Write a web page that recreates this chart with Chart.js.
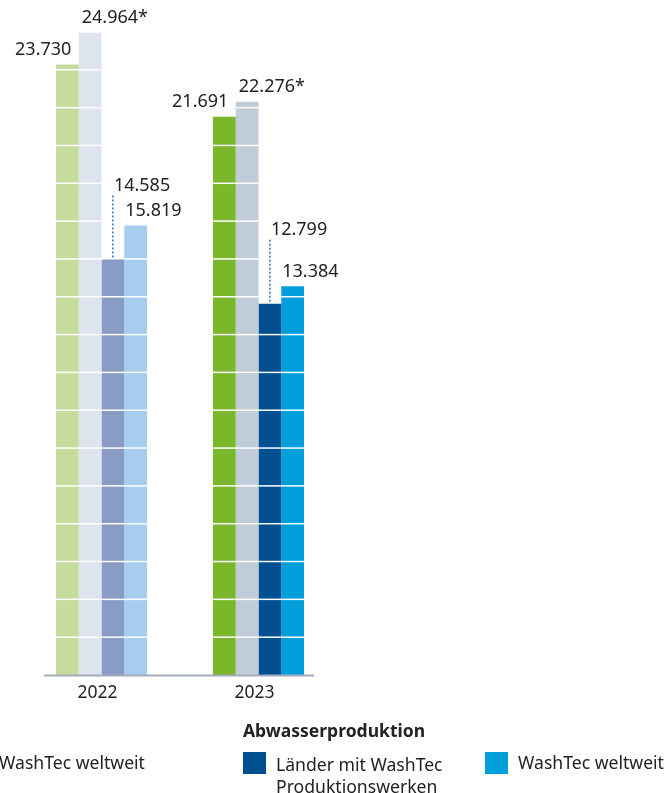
<!DOCTYPE html>
<html>
<head>
<meta charset="utf-8">
<script src="https://cdn.jsdelivr.net/npm/chart.js@4"></script>
<style>
  body { margin: 0; background: #fff; }
  #wrap { position: relative; width: 671px; height: 793px; overflow: hidden; font-family: "Noto Sans", sans-serif; color: #222; }
  canvas { position: absolute; left: 0; top: 0; }
  .legend-title { position: absolute; left: 243px; top: 718px; font-weight: bold; font-size: 17.5px; }
  .item { position: absolute; font-size: 17.6px; line-height: 22px; }
  .swatch { position: absolute; width: 23px; height: 22px; }
</style>
</head>
<body>
<div id="wrap">
  <canvas id="chart" width="671" height="793"></canvas>
  <div class="item" style="left:-1px; top:751px;">WashTec weltweit</div>
  <div class="legend-title">Abwasserproduktion</div>
  <div class="swatch" style="left:243px; top:752px; background:#005091;"></div>
  <div class="item" style="left:276px; top:753px;">Länder mit WashTec<br>Produktionswerken</div>
  <div class="swatch" style="left:485px; top:752px; background:#009edb;"></div>
  <div class="item" style="left:518px; top:751px;">WashTec weltweit</div>
</div>
<script>
const years = ["2022", "2023"];

// bar heights as drawn in the original graphic
// (the lower two bars are drawn taller than their printed values)
const greenBars = [23730, 21691];
const greyBars = [24964, 22276];
const darkBlueBars = [16150, 14430];
const lightBlueBars = [17470, 15110];

// printed value labels
const greenLabels = ["23.730", "21.691"];
const greyLabels = ["24.964*", "22.276*"];
const darkBlueLabels = ["14.585", "12.799"];
const lightBlueLabels = ["15.819", "13.384"];

const gridStep = 1470;

const FONT = '"Noto Sans", sans-serif';

const overlay = {
  id: "overlay",
  afterDatasetsDraw(chart) {
    const ctx = chart.ctx;
    const y = chart.scales.y;
    const x = chart.scales.x;
    ctx.save();

    // white lines across the bars
    ctx.strokeStyle = "#ffffff";
    ctx.lineWidth = 1.5;
    chart.data.datasets.forEach((ds, i) => {
      chart.getDatasetMeta(i).data.forEach((bar, j) => {
        for (let k = 1; k * gridStep < ds.data[j]; k++) {
          const py = y.getPixelForValue(k * gridStep);
          ctx.beginPath();
          ctx.moveTo(bar.x - bar.width / 2, py);
          ctx.lineTo(bar.x + bar.width / 2, py);
          ctx.stroke();
        }
      });
    });

    // base line
    ctx.strokeStyle = "#a3abbb";
    ctx.lineWidth = 2;
    ctx.beginPath();
    ctx.moveTo(44, y.getPixelForValue(0) + 0.5);
    ctx.lineTo(314, y.getPixelForValue(0) + 0.5);
    ctx.stroke();

    // year labels
    ctx.fillStyle = "#222";
    ctx.font = "17.5px " + FONT;
    ctx.textAlign = "center";
    ctx.textBaseline = "middle";
    years.forEach((yr, j) => {
      ctx.fillText(yr, x.getPixelForValue(j) - 4, 693);
    });

    // value labels
    ctx.font = "18px " + FONT;
    const labelSets = [greenLabels, greyLabels, darkBlueLabels, lightBlueLabels];
    chart.data.datasets.forEach((ds, i) => {
      chart.getDatasetMeta(i).data.forEach((bar, j) => {
        const txt = labelSets[i][j];
        const left = bar.x - bar.width / 2;
        if (i === 0) {
          ctx.textAlign = "right";
          ctx.fillText(txt, bar.x + 4, bar.y - 14.5);
        } else if (i === 1) {
          ctx.textAlign = "left";
          ctx.fillText(txt, left + 3, bar.y - 14.5);
        } else if (i === 2) {
          ctx.textAlign = "left";
          ctx.fillText(txt, bar.x + 1, bar.y - 73.5);
          ctx.save();
          ctx.strokeStyle = "#2f6fb3";
          ctx.lineWidth = 1.5;
          ctx.setLineDash([2, 2]);
          ctx.beginPath();
          ctx.moveTo(bar.x, bar.y - 64);
          ctx.lineTo(bar.x, bar.y);
          ctx.stroke();
          ctx.restore();
        } else {
          ctx.textAlign = "left";
          ctx.fillText(txt, left + 1, bar.y - 14.5);
        }
      });
    });
    ctx.restore();
  }
};

new Chart(document.getElementById("chart"), {
  type: "bar",
  data: {
    labels: years,
    datasets: [
      { label: "Länder mit WashTec Produktionswerken", data: greenBars, backgroundColor: ["#c6dc9c", "#78b82a"] },
      { label: "WashTec weltweit", data: greyBars, backgroundColor: ["#dee4ed", "#c0ccd8"] },
      { label: "Abwasser – Länder mit WashTec Produktionswerken", data: darkBlueBars, backgroundColor: ["#899cc6", "#005091"] },
      { label: "Abwasser – WashTec weltweit", data: lightBlueBars, backgroundColor: ["#a6ccee", "#009edb"] }
    ]
  },
  options: {
    responsive: false,
    animation: false,
    events: [],
    layout: { padding: { left: 23, right: 334, top: 6, bottom: 118 } },
    datasets: { bar: { barPercentage: 1, categoryPercentage: 0.58, borderWidth: 0 } },
    plugins: { legend: { display: false }, tooltip: { enabled: false } },
    scales: {
      x: { display: false },
      y: { display: false, min: 0, max: 26000 }
    }
  },
  plugins: [overlay]
});
</script>
</body>
</html>
